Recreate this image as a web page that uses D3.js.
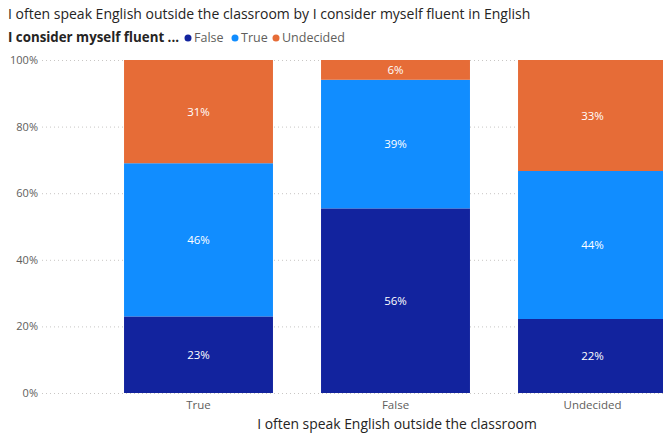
<!DOCTYPE html>
<html>
<head>
<meta charset="utf-8">
<script src="https://cdn.jsdelivr.net/npm/d3@7"></script>
<style>
  html, body { margin: 0; padding: 0; background: #fff; }
  svg { display: block; font-family: "Open Sans", "Noto Sans", sans-serif; }
</style>
</head>
<body>
<svg id="chart" width="663" height="435"></svg>
<script>
// Categories on the x axis (answer to "I often speak English outside the classroom")
const categories = ["True", "False", "Undecided"];
// Legend series (answer to "I consider myself fluent in English")
const seriesNames = ["False", "True", "Undecided"];
// Percent shares per category, one array per series
const falseValues = [23, 56, 22];
const trueValues = [46, 39, 44];
const undecidedValues = [31, 6, 33];
const yTicks = [0, 0.2, 0.4, 0.6, 0.8, 1.0];

const colors = { "False": "#12239E", "True": "#118DFF", "Undecided": "#E66C37" };

const rows = categories.map((c, i) => ({
  category: c,
  "False": falseValues[i],
  "True": trueValues[i],
  "Undecided": undecidedValues[i]
}));

const svg = d3.select("#chart");
const W = 663, H = 435;
const plotTop = 60, plotBottom = 393;

const x = d3.scaleBand()
  .domain(categories)
  .range([100, 691])
  .paddingInner(0.244)
  .paddingOuter(0.122);

const y = d3.scaleLinear().domain([0, 1]).range([plotBottom, plotTop]);

const stack = d3.stack().keys(seriesNames).offset(d3.stackOffsetExpand);
const stacked = stack(rows);

// Title
svg.append("text")
  .attr("x", 8).attr("y", 19)
  .attr("font-size", 14)
  .attr("fill", "#252423")
  .text("I often speak English outside the classroom by I consider myself fluent in English");

// Legend
const legend = svg.append("g").attr("transform", "translate(8,42)");
legend.append("text")
  .attr("x", 0).attr("y", 0)
  .attr("font-size", 13.3)
  .attr("font-weight", "bold")
  .attr("fill", "#252423")
  .text("I consider myself fluent ...");
const legendPos = [188, 235, 276];
seriesNames.forEach((s, i) => {
  legend.append("circle")
    .attr("cx", legendPos[i] - 8).attr("cy", -4)
    .attr("r", 3.5)
    .attr("fill", colors[s]);
  legend.append("text")
    .attr("x", legendPos[i] - 8 + 6).attr("y", 0)
    .attr("font-size", 12.5)
    .attr("fill", "#605E5C")
    .text(s);
});

// Gridlines and y axis labels
const yAxis = d3.axisLeft(y)
  .tickValues(yTicks)
  .tickFormat(d3.format(".0%"))
  .tickSize(-(W - 42))
  .tickPadding(4);
const yg = svg.append("g").attr("transform", "translate(42,0)").call(yAxis);
yg.select(".domain").remove();
yg.selectAll(".tick line")
  .attr("stroke", "#C8C6C4")
  .attr("stroke-dasharray", "1,3");
yg.selectAll(".tick text")
  .attr("font-size", 11)
  .attr("fill", "#605E5C")
  .attr("font-family", "\"Open Sans\", sans-serif");

// Bars
const layers = svg.append("g").selectAll("g")
  .data(stacked)
  .join("g")
  .attr("fill", d => colors[d.key]);

layers.selectAll("rect")
  .data(d => d.map(p => Object.assign(p, { key: d.key })))
  .join("rect")
  .attr("x", d => x(d.data.category))
  .attr("width", x.bandwidth())
  .attr("y", d => y(d[1]))
  .attr("height", d => y(d[0]) - y(d[1]));

// Data labels
layers.selectAll("text")
  .data(d => d)
  .join("text")
  .attr("x", d => x(d.data.category) + x.bandwidth() / 2)
  .attr("y", d => (y(d[0]) + y(d[1])) / 2 + 4)
  .attr("text-anchor", "middle")
  .attr("font-size", 11.5)
  .attr("fill", "#fff")
  .text(d => d.data[d.key] + "%");

// X axis category labels
const xAxis = d3.axisBottom(x).tickSize(0).tickPadding(8);
const xg = svg.append("g").attr("transform", `translate(0,${plotBottom})`).call(xAxis);
xg.select(".domain").remove();
xg.selectAll(".tick text")
  .attr("font-size", 11.5)
  .attr("fill", "#605E5C")
  .attr("font-family", "\"Open Sans\", sans-serif");

// X axis title
svg.append("text")
  .attr("x", 397).attr("y", 429)
  .attr("text-anchor", "middle")
  .attr("font-size", 13.9)
  .attr("fill", "#252423")
  .text("I often speak English outside the classroom");
</script>
</body>
</html>
